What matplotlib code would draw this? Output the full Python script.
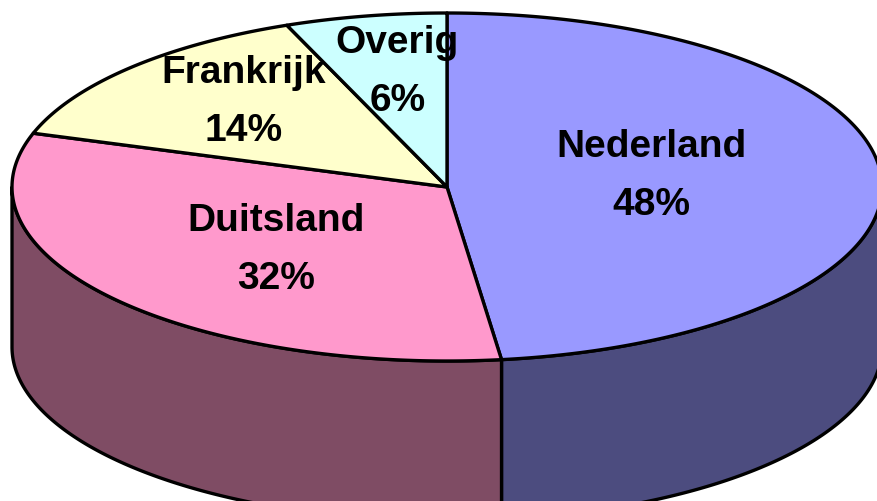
import numpy as np
import matplotlib.pyplot as plt
from matplotlib.patches import Polygon

# data
landen = ["Nederland", "Duitsland", "Frankrijk", "Overig"]
aandeel = [48, 32, 14, 6]
kleur_top = ["#9999FF", "#FF99CC", "#FFFFCC", "#CCFFFF"]
kleur_zij = ["#4C4C7F", "#7F4C64", "#7F7F66", "#667F7F"]
label_rx = [0.47, 0.51, 0.64, 0.61]
label_ry = [0.47, 0.62, 0.66, 0.64]

# layout van de 3D taart (pixels)
cx, cy = 447, 187
a, b = 435, 174
diepte = 160
label_dy = -6

fig = plt.figure(figsize=(8.77, 5.01), dpi=100)
ax = fig.add_axes([0, 0, 1, 1])
ax.set_xlim(0, 877)
ax.set_ylim(501, 0)
ax.axis("off")


def rand(t1, t2, dy=0.0, n=200):
    t = np.radians(np.linspace(t1, t2, n))
    return np.column_stack([cx + a * np.cos(t), cy - b * np.sin(t) + dy])


# hoeken: start bovenaan (90 graden), met de klok mee
totaal = sum(aandeel)
grenzen = [90.0]
for v in aandeel:
    grenzen.append(grenzen[-1] - 360.0 * v / totaal)

# zijkanten (alleen de voorste helft is zichtbaar)
for i in range(len(aandeel)):
    t1, t2 = grenzen[i], grenzen[i + 1]
    lo, hi = max(t2, -180.0), min(t1, 0.0)
    if lo >= hi:
        continue
    boven = rand(hi, lo)
    onder = rand(lo, hi, dy=diepte)
    ax.add_patch(Polygon(np.vstack([boven, onder]), closed=True,
                         facecolor=kleur_zij[i], edgecolor="black", lw=2.4,
                         joinstyle="round"))

# bovenkant
for i in range(len(aandeel)):
    t1, t2 = grenzen[i], grenzen[i + 1]
    pts = np.vstack([[cx, cy], rand(t1, t2)])
    ax.add_patch(Polygon(pts, closed=True, facecolor=kleur_top[i],
                         edgecolor="black", lw=2.4, joinstyle="round"))

# labels
for i, land in enumerate(landen):
    mid = np.radians((grenzen[i] + grenzen[i + 1]) / 2)
    x = cx + label_rx[i] * a * np.cos(mid)
    y = cy - label_ry[i] * b * np.sin(mid) + label_dy
    ax.text(x, y, f"{land}\n{aandeel[i]}%", ha="center", va="center",
            fontsize=28, fontweight="bold", linespacing=1.78,
            family=["Liberation Sans", "DejaVu Sans"])

fig.savefig("out.png", dpi=100)
